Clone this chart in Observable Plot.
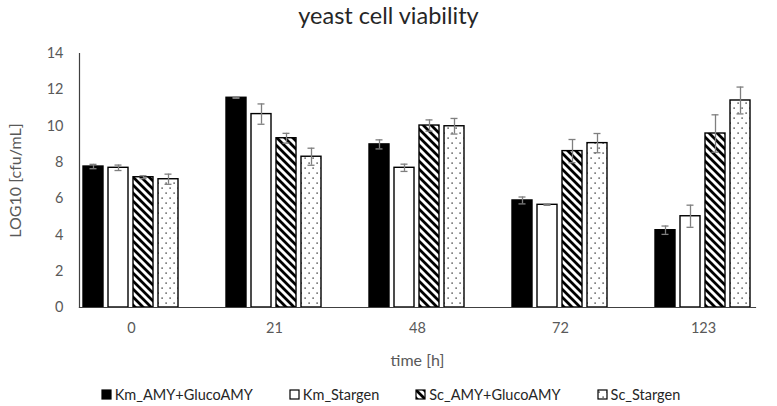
<!DOCTYPE html>
<html>
<head>
<meta charset="utf-8">
<script src="https://cdn.jsdelivr.net/npm/d3@7"></script>
<script src="https://cdn.jsdelivr.net/npm/@observablehq/plot@0.6"></script>
<style>
  html, body { margin: 0; padding: 0; background: #fff; }
  body { width: 777px; height: 406px; overflow: hidden; font-family: Lato, "Open Sans", sans-serif; }
  #title { height: 40px; line-height: 30px; text-align: center; font-size: 23.5px; font-weight: 400; color: #262626; }
  #legend { display: flex; justify-content: center; gap: 36px; padding-top: 11px; padding-left: 4px; font-size: 14.5px; color: #262626; }
  #legend .item { display: flex; align-items: center; gap: 3px; }
  #legend svg { display: block; }
</style>
</head>
<body>
<svg width="0" height="0" style="position:absolute">
  <defs>
    <pattern id="hatch" patternUnits="userSpaceOnUse" width="8" height="8">
      <rect width="8" height="8" fill="white"></rect>
      <path d="M-2,-2L10,10M-2,6L2,10M6,-2L10,2" stroke="black" stroke-width="2.8"></path>
    </pattern>
    <pattern id="dots" patternUnits="userSpaceOnUse" width="8" height="10">
      <rect width="8" height="10" fill="white"></rect>
      <rect x="1.5" y="2.5" width="1.2" height="1.2" fill="black"></rect>
      <rect x="5.5" y="7.5" width="1.2" height="1.2" fill="black"></rect>
    </pattern>
  </defs>
</svg>
<div id="title">yeast cell viability</div>
<div id="chart"></div>
<div id="legend"></div>
<script>
const times = ["0", "21", "48", "72", "123"];
const series = ["Km_AMY+GlucoAMY", "Km_Stargen", "Sc_AMY+GlucoAMY", "Sc_Stargen"];
const kmAmy        = [7.77, 11.56, 8.99, 5.90, 4.26];
const kmAmyErr     = [0.12, 0.03, 0.25, 0.19, 0.23];
const kmStargen    = [7.70, 10.66, 7.70, 5.66, 5.03];
const kmStargenErr = [0.15, 0.56, 0.20, 0.03, 0.61];
const scAmy        = [7.18, 9.33, 10.03, 8.62, 9.59];
const scAmyErr     = [0.08, 0.27, 0.31, 0.64, 1.03];
const scStargen    = [7.07, 8.31, 9.99, 9.06, 11.41];
const scStargenErr = [0.28, 0.47, 0.43, 0.53, 0.74];
const yTicks = [0, 2, 4, 6, 8, 10, 12, 14];
const fills = ["black", "white", "url(#hatch)", "url(#dots)"];

const values = [kmAmy, kmStargen, scAmy, scStargen];
const errs = [kmAmyErr, kmStargenErr, scAmyErr, scStargenErr];
const rows = [];
times.forEach((t, i) => series.forEach((s, j) => {
  rows.push({time: t, series: s, value: values[j][i], err: errs[j][i]});
}));

const errColor = "#7f7f7f";
const chart = Plot.plot({
  width: 777,
  height: 335,
  marginLeft: 59,
  marginRight: 2,
  marginTop: 13,
  marginBottom: 68,
  style: {fontFamily: "Lato, 'Open Sans', sans-serif", fontSize: "14.5px", color: "#595959", background: "white"},
  fx: {domain: times, paddingInner: 0.274, paddingOuter: 0.137},
  x: {domain: series, paddingInner: 0.19, paddingOuter: 0.1, axis: null},
  y: {domain: [0, 14]},
  color: {domain: series, range: fills},
  marks: [
    Plot.barY(rows, {fx: "time", x: "series", y: "value", fill: "series", stroke: "black", strokeWidth: 1.4}),
    Plot.ruleX(rows, {fx: "time", x: "series", y1: d => d.value - d.err, y2: d => d.value + d.err, stroke: errColor, strokeWidth: 1.3}),
    Plot.tickY(rows, {fx: "time", x: "series", y: d => d.value - d.err, stroke: errColor, strokeWidth: 1.3, insetLeft: 6.5, insetRight: 6.5}),
    Plot.tickY(rows, {fx: "time", x: "series", y: d => d.value + d.err, stroke: errColor, strokeWidth: 1.3, insetLeft: 6.5, insetRight: 6.5}),
    Plot.frame({anchor: "bottom", facet: "super", stroke: "#404040", strokeWidth: 1.2}),
    Plot.frame({anchor: "left", facet: "super", stroke: "#404040", strokeWidth: 1.2}),
    Plot.axisY({ticks: yTicks, tickSize: 0, tickPadding: 16, label: "LOG10 [cfu/mL]", labelAnchor: "center", labelArrow: "none", labelOffset: 70, fill: "#595959"}),
    Plot.axisFx({anchor: "bottom", tickSize: 0, tickPadding: 15, label: "time [h]", labelAnchor: "center", labelArrow: "none", labelOffset: 58, fill: "#595959"})
  ]
});
chart.querySelectorAll('[aria-label$="axis label"]').forEach(g => {
  g.setAttribute("font-size", "16px");
  g.style.fontSize = "16px";
});
document.getElementById("chart").appendChild(chart);

const legend = document.getElementById("legend");
series.forEach((s, j) => {
  const item = document.createElement("div");
  item.className = "item";
  item.innerHTML = `<svg width="11" height="11"><rect x="1" y="1" width="9" height="9" fill="${fills[j]}" stroke="black" stroke-width="1.2"></rect></svg><span>${s}</span>`;
  legend.appendChild(item);
});
</script>
</body>
</html>
